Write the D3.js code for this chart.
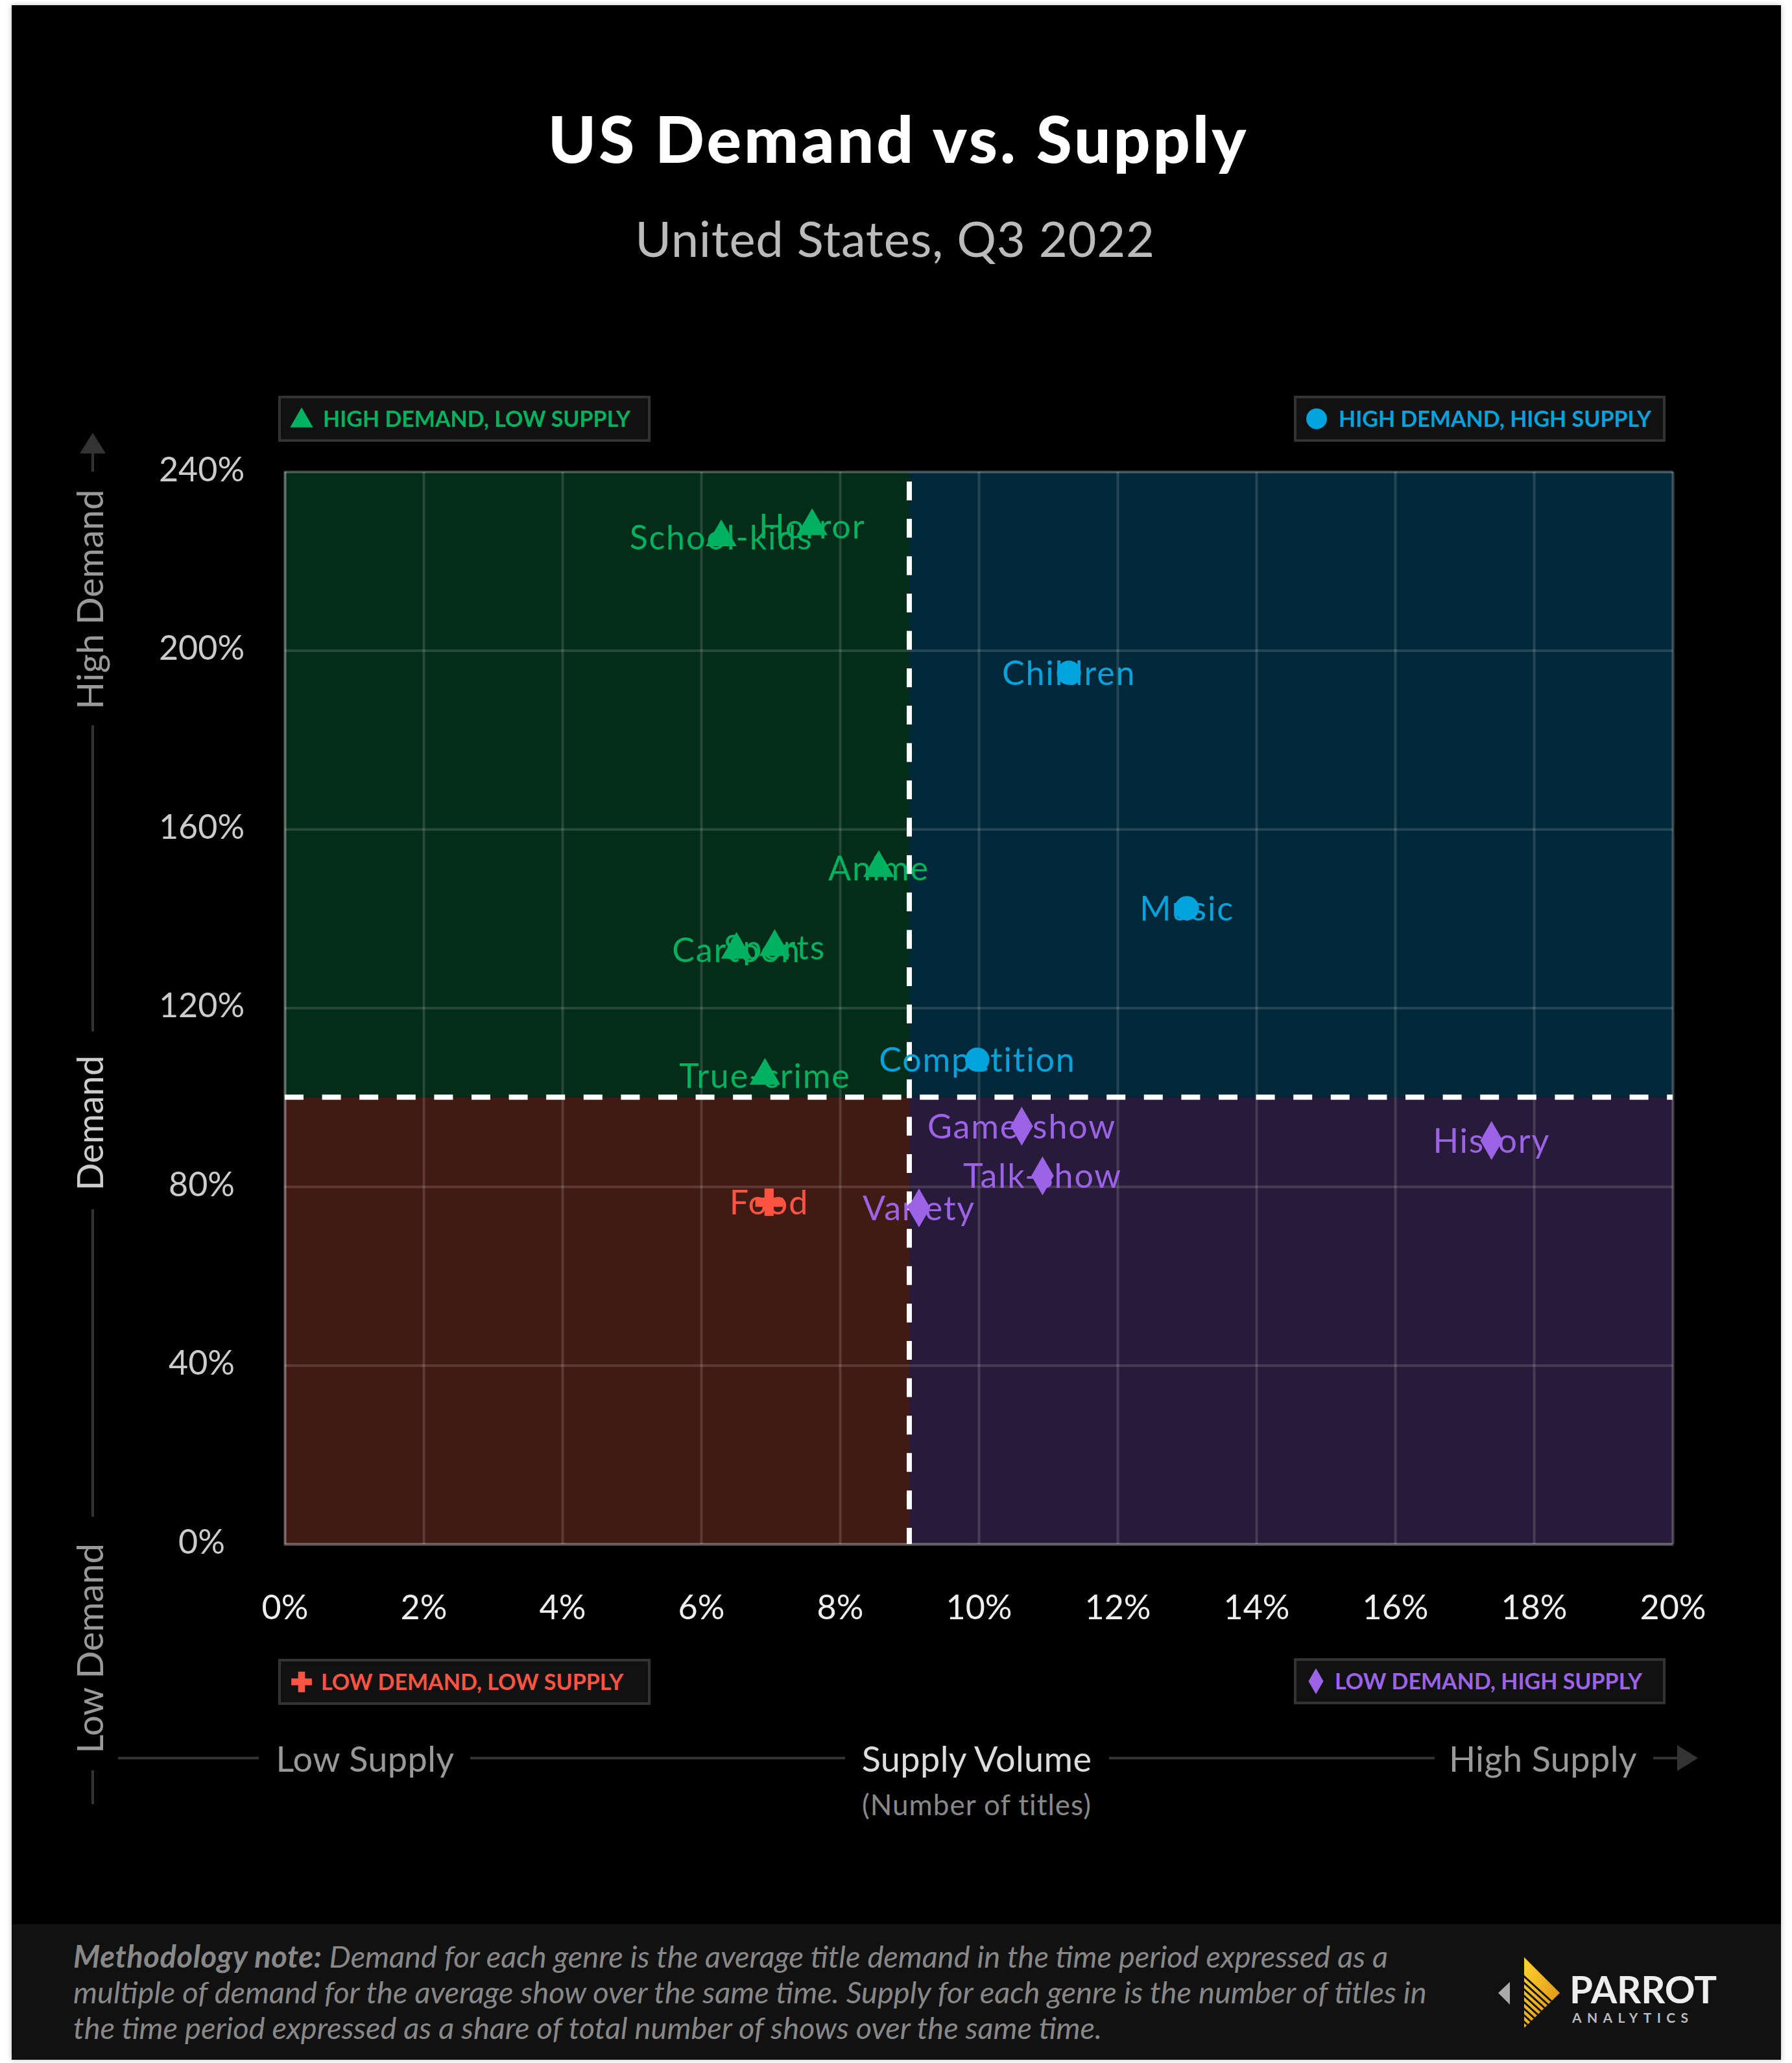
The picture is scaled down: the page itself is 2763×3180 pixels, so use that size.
<!DOCTYPE html>
<html>
<head>
<meta charset="utf-8">
<script src="https://cdn.jsdelivr.net/npm/d3@7"></script>
<style>
html, body { margin: 0; padding: 0; background: #fff; }
svg { display: block; }
text { font-family: Lato, sans-serif; }
</style>
</head>
<body>
<svg id="chart" width="2763" height="3180"></svg>
<script>
const genres = ["School-kids", "Horror", "Anime", "Cartoon", "Sports", "True-crime", "Children", "Music", "Competition", "Game-show", "Talk-show", "History", "Variety", "Food"];
const supply = [6.29, 7.6, 8.56, 6.51, 7.06, 6.92, 11.3, 13.0, 9.98, 10.62, 10.92, 17.39, 9.14, 6.98];
const demand = [225.3, 227.8, 151.3, 133, 133.6, 104.8, 195, 142.3, 108.4, 93.5, 82.4, 90.3, 75.2, 76.5];

const xTicks = [0, 2, 4, 6, 8, 10, 12, 14, 16, 18, 20];
const yTicks = [0, 40, 80, 120, 160, 200, 240];
const supplySplit = 9;
const demandSplit = 100;

const quadrantNames = ["HIGH DEMAND, LOW SUPPLY", "HIGH DEMAND, HIGH SUPPLY", "LOW DEMAND, LOW SUPPLY", "LOW DEMAND, HIGH SUPPLY"];
const quadrantColors = ["#00b25f", "#00a3dc", "#ff5442", "#9d63e6"];
const quadrantFills = ["#032c19", "#012838", "#421a14", "#281a3a"];

const noteLines = [
    [["Methodology note: ", true], ["Demand for each genre is the average title demand in the time period expressed as a", false]],
    [["multiple of demand for the average show over the same time. Supply for each genre is the number of titles in", false]],
    [["the time period expressed as a share of total number of shows over the same time.", false]]
];

const svg = d3.select("#chart");

const x = d3.scaleLinear().domain([0, 20]).range([439, 2579]);
const y = d3.scaleLinear().domain([0, 240]).range([2380, 727]);

// page
svg.append("rect").attr("x", 18).attr("y", 8).attr("width", 2728).attr("height", 3167)
    .attr("fill", "#000").style("filter", "drop-shadow(0 0 4px rgba(0,0,0,.25))");
svg.append("rect").attr("x", 18).attr("y", 2966).attr("width", 2728).attr("height", 209).attr("fill", "#111");

function centerText(cx, cy, str, size, color, weight, spacing) {
    return svg.append("text").attr("x", cx).attr("y", cy).attr("text-anchor", "middle")
        .attr("font-size", size).attr("fill", color).attr("font-weight", weight || 400)
        .attr("letter-spacing", spacing || 0).text(str);
}

centerText(1385, 251, "US Demand vs. Supply", 100, "#fff", 900, 4);
centerText(1380, 396, "United States, Q3 2022", 76, "#bbb", 400, 0.7);

// quadrants
function quadrantOf(sx, dy) {
    return (dy >= demandSplit ? 0 : 2) + (sx >= supplySplit ? 1 : 0);
}
const quadBoxes = [
    [0, supplySplit, demandSplit, 240],
    [supplySplit, 20, demandSplit, 240],
    [0, supplySplit, 0, demandSplit],
    [supplySplit, 20, 0, demandSplit]
];
svg.append("g").selectAll("rect").data(quadBoxes).join("rect")
    .attr("x", d => x(d[0]))
    .attr("y", d => y(d[3]))
    .attr("width", d => x(d[1]) - x(d[0]))
    .attr("height", d => y(d[2]) - y(d[3]))
    .attr("fill", (d, i) => quadrantFills[i]);

// grid and tick labels come from the axes
const gridColor = "rgba(255,255,255,.14)";
const xAxis = svg.append("g").attr("transform", `translate(0,${y(0)})`)
    .call(d3.axisBottom(x).tickValues(xTicks).tickFormat(d => d + "%").tickSize(-(y(0) - y(240))).tickPadding(0));
const yAxis = svg.append("g").attr("transform", `translate(${x(0)},0)`)
    .call(d3.axisLeft(y).tickValues(yTicks).tickFormat(d => d + "%").tickSize(-(x(20) - x(0))).tickPadding(0));
[xAxis, yAxis].forEach(a => {
    a.selectAll("line").attr("stroke", gridColor).attr("stroke-width", 4);
    a.select(".domain").attr("stroke", gridColor).attr("stroke-width", 4);
    a.selectAll("text").attr("font-family", "Lato").attr("font-size", 52);
});
xAxis.selectAll("text").attr("fill", "#eee").attr("y", 116).attr("dy", 0);
yAxis.selectAll("text").attr("fill", "#ccc").attr("text-anchor", "middle").attr("x", -128).attr("dy", 14);

// dashed splits
svg.append("line").attr("x1", x(0)).attr("x2", x(20)).attr("y1", y(demandSplit)).attr("y2", y(demandSplit))
    .attr("stroke", "#fff").attr("stroke-width", 8).attr("stroke-dasharray", "29 28.6");
svg.append("line").attr("x1", x(supplySplit)).attr("x2", x(supplySplit)).attr("y1", y(0)).attr("y2", y(240))
    .attr("stroke", "#fff").attr("stroke-width", 8).attr("stroke-dasharray", "29 28.6").attr("stroke-dashoffset", 4);

// points
const symbolTypes = [d3.symbolTriangle, d3.symbolCircle, d3.symbolCross, d3.symbolDiamond];
const symbolSizes = [980, 1100, 1000, 1039];
const legendSizes = [540, 800, 560, 460];
const quads = genres.map((g, i) => quadrantOf(supply[i], demand[i]));

svg.append("g").selectAll("text").data(genres).join("text")
    .attr("x", (d, i) => x(supply[i]))
    .attr("y", (d, i) => y(demand[i]) + 19)
    .attr("text-anchor", "middle")
    .attr("font-size", 52)
    .attr("letter-spacing", 1.8)
    .attr("fill", (d, i) => quadrantColors[quads[i]])
    .text(d => d);

svg.append("g").selectAll("path").data(genres).join("path")
    .attr("transform", (d, i) => `translate(${x(supply[i])},${y(demand[i])})`)
    .attr("d", (d, i) => d3.symbol().type(symbolTypes[quads[i]]).size(symbolSizes[quads[i]])())
    .attr("fill", (d, i) => quadrantColors[quads[i]]);

// legend boxes
const legendBoxes = [
    [431, 612, 570, 67, 465, 498],
    [1997, 612, 569, 67, 2030, 2064],
    [431, 2559, 570, 67, 465, 495],
    [1997, 2558, 569, 67, 2029, 2058]
];
const legend = svg.append("g").selectAll("g").data(legendBoxes).join("g");
legend.append("rect")
    .attr("x", d => d[0]).attr("y", d => d[1]).attr("width", d => d[2]).attr("height", d => d[3])
    .attr("fill", "#111").attr("stroke", "#333").attr("stroke-width", 4);
legend.append("path")
    .attr("transform", (d, i) => `translate(${d[4]},${d[1] + d[3] / 2 + (i === 0 ? 3 : 0)})`)
    .attr("d", (d, i) => d3.symbol().type(symbolTypes[i]).size(legendSizes[i])())
    .attr("fill", (d, i) => quadrantColors[i]);
legend.append("text")
    .attr("x", d => d[5]).attr("y", d => d[1] + d[3] / 2 + 12)
    .attr("font-size", 34).attr("font-weight", 700)
    .attr("fill", (d, i) => quadrantColors[i])
    .text((d, i) => quadrantNames[i]);

// axis annotations
const annoLine = "#333";
function seg(x1, y1, x2, y2) {
    svg.append("line").attr("x1", x1).attr("y1", y1).attr("x2", x2).attr("y2", y2)
        .attr("stroke", annoLine).attr("stroke-width", 4);
}
[[727, 690], [1118, 1590], [1864, 2338], [2729, 2781]].forEach(s => seg(143, s[0], 143, s[1]));
[[182, 399], [725, 1303], [1710, 2212], [2549, 2590]].forEach(s => seg(s[0], 2710, s[1], 2710));
svg.append("path").attr("d", "M143,667L163,699L123,699Z").attr("fill", annoLine);
svg.append("path").attr("d", "M2618,2710L2586,2690L2586,2730Z").attr("fill", annoLine);

function vText(cy, str, color) {
    svg.append("text").attr("transform", `translate(159,${cy}) rotate(-90)`)
        .attr("text-anchor", "middle").attr("font-size", 56).attr("fill", color).text(str);
}
vText(924, "High Demand", "#999");
vText(1731, "Demand", "#ccc");
vText(2541, "Low Demand", "#999");

centerText(563, 2731, "Low Supply", 54, "#999", 400, 0.4);
centerText(1506, 2731, "Supply Volume", 54, "#ddd", 400, 0.4);
centerText(2379, 2731, "High Supply", 54, "#999", 400, 0.4);
centerText(1506, 2798, "(Number of titles)", 44, "#888", 400, 1);

// methodology note
const note = svg.append("g");
noteLines.forEach((line, i) => {
    const t = note.append("text").attr("x", 113).attr("y", 3033 + i * 55)
        .attr("font-size", 47).attr("font-style", "italic").attr("fill", "#888");
    line.forEach(part => {
        t.append("tspan").attr("font-weight", part[1] ? 700 : 400)
            .attr("letter-spacing", part[1] ? 0.6 : 0).text(part[0]);
    });
});

// logo
const defs = svg.append("defs");
const grad = defs.append("linearGradient").attr("id", "gold").attr("x1", 0).attr("y1", 0).attr("x2", 1).attr("y2", 1);
grad.append("stop").attr("offset", "0%").attr("stop-color", "#ffd52e");
grad.append("stop").attr("offset", "100%").attr("stop-color", "#d98a12");
defs.append("clipPath").attr("id", "goldClip").append("path").attr("d", "M2350,3017L2405,3072L2350,3126Z");
svg.append("path").attr("d", "M2328,3055L2310,3072L2328,3090Z").attr("fill", "#aaa");
svg.append("path").attr("d", "M2350,3017L2405,3072L2350,3126Z").attr("fill", "url(#gold)");
const stripes = svg.append("g").attr("clip-path", "url(#goldClip)");
d3.range(0, 9).forEach(i => {
    stripes.append("line").attr("x1", 2345).attr("x2", 2400)
        .attr("y1", 3042 + i * 10).attr("y2", 3092 + i * 10)
        .attr("stroke", "#111").attr("stroke-width", 3);
});
svg.append("text").attr("x", 2420).attr("y", 3088).attr("font-size", 58).attr("font-weight", 700)
    .attr("fill", "#eee").attr("textLength", 227).text("PARROT");
svg.append("text").attr("x", 2424).attr("y", 3118).attr("font-size", 21).attr("font-weight", 700)
    .attr("fill", "#bbb").attr("textLength", 179).text("ANALYTICS");
</script>
</body>
</html>
